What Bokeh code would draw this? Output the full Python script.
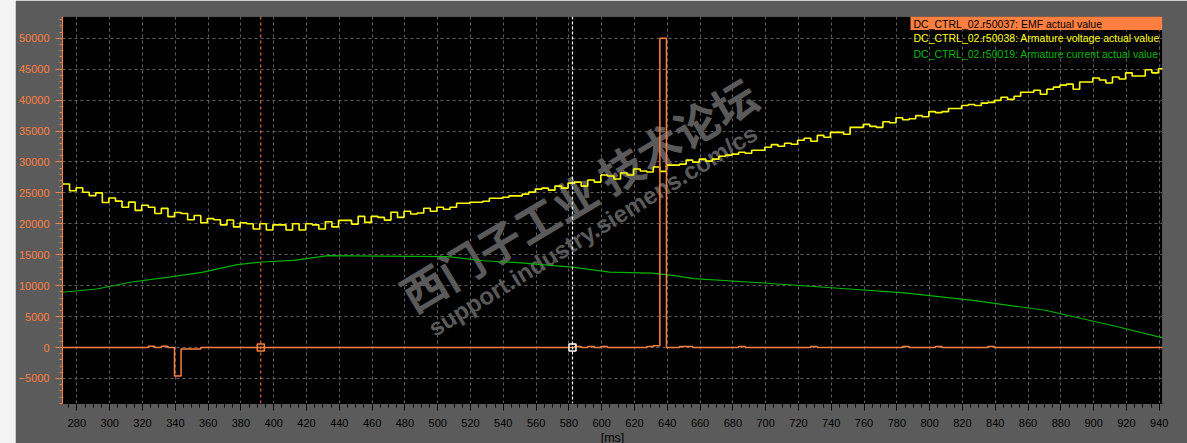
import numpy as np
from bokeh.plotting import figure
from bokeh.models import (Range1d, SingleIntervalTicker, Span, Label, BoxAnnotation,
                          Spacer, BasicTickFormatter)
from bokeh.layouts import row
from bokeh.embed import file_html
from bokeh.resources import INLINE

# ---------------- data ----------------
sample_start = 271.5   # ms, first sample of the stepped traces
sample_period = 4.0    # ms

armature_voltage = [
    26445, 25333, 25830, 25110, 24555, 25000, 23440, 24165, 23665, 22665,
    23500, 22165, 23000, 22665, 21665, 22500, 21165, 21830, 21665, 20665,
    21330, 20165, 20830, 20665, 19830, 20610, 19500, 20165, 20000, 19165,
    20000, 19000, 19830, 19830, 19000, 20000, 19000, 20000, 19830, 19165,
    20330, 19500,
    20550, 20550, 19950, 21200, 20225, 21200, 21040, 20600, 21855, 21040,
    22020, 21580, 21745, 22510, 22020, 22670, 22345, 22670, 23320, 23320,
    23485, 23485, 23650, 24135, 24135, 24300, 24515, 24515, 24790, 25115,
    25600, 25765, 25440, 26090, 25765, 26580, 26740, 26090, 27070, 26740,
    27880, 27720,
    27240, 28200, 27885, 28850, 28530, 28370, 29170, 28470, 29490, 29490,
    29650, 30290, 29970, 30450, 30130, 30450, 30930, 31095, 31255, 31575,
    31415, 31900, 31900, 32380, 32800, 32540, 33020, 32860, 33500, 33820,
    33340, 34300, 33980, 34785, 34785, 34465, 35590, 35590, 36070, 35750,
    35590,
    36490, 36325, 37150, 36820, 36985, 37480, 37315, 38140, 37970, 38140,
    38630, 38630, 39125, 39290, 39125, 39510, 39620, 39950, 40445, 40110,
    40610, 41270, 41270, 41600, 40940, 41760, 42090, 42420, 42585, 41760,
    42915, 42915, 43570, 43240, 42750, 43740, 43410, 44400, 43900, 43900,
    44890, 44400, 45055,
]

current_t = [270.6, 292.0, 313.5, 334.9, 356.3, 377.7, 392.7, 412.0, 433.4, 463.5,
             506.3, 527.7, 549.2, 570.6, 583.4, 604.8, 630.6, 643.4, 656.3, 699.1,
             742.0, 784.8, 827.6, 870.5, 913.3, 942.5]
armature_current = [8925, 9460, 10590, 11345, 12150, 13390, 13820, 14090, 14840, 14785,
                    14680, 14030, 13710, 13225, 12960, 12200, 12040, 11670, 11130, 10430,
                    9625, 8820, 7580, 6020, 3440, 1560]

emf_t = [271.5, 323.5, 327.5, 331.5, 335.5, 339.5, 343.5, 355.5, 583.5, 587.5,
         591.5, 595.5, 599.5, 603.5, 627.5, 631.5, 635.5, 639.5, 647.5, 655.5,
         683.5, 687.5, 727.5, 731.5, 783.5, 787.5, 803.5, 807.5, 835.5, 839.5, 943.5]
emf_value = [0, 200, 0, 200, 0, -4600, -250, 0, 150, 0,
             150, 0, 150, 0, 150, 300, 50000, 0, 150, 0,
             150, 0, 150, 0, 150, 0, 150, 0, 150, 0, 0]

cursor_t = [392.1, 582.2]
cursor_v = [0, 0]

series_names = ["DC_CTRL_02.r50037: EMF actual value",
                "DC_CTRL_02.r50038: Armature voltage actual value",
                "DC_CTRL_02.r50019: Armature current actual value"]
x_axis_title = "[ms]"
watermark_cn = "西门子工业 技术论坛"
watermark_url = "support.industry.siemens.com/cs"

# ---------------- styling ----------------
ORANGE = "#ff7f40"
YELLOW = "#ffff00"
GREEN = "#00b400"
PANEL = "#5b5b5b"
TICKFONT = "Liberation Sans"

X0, X1 = 271.2, 942.0
Y0, Y1 = -9050, 53510
FL, FR, FT, FB = 61, 1161, 16, 403   # frame in page pixels


def px_x(px):
    return X0 + (px - FL) * (X1 - X0) / (FR - FL)


def px_y(py):
    return Y1 - (py - FT) * (Y1 - Y0) / (FB - FT)


p = figure(frame_width=FR - FL, frame_height=FB - FT,
           x_range=Range1d(X0, X1), y_range=Range1d(Y0, Y1),
           output_backend="svg", toolbar_location=None,
           min_border_left=FL - 15, min_border_right=1187 - FR,
           min_border_top=FT, min_border_bottom=443 - FB,
           background_fill_color="black", border_fill_color=PANEL,
           outline_line_color=None)

p.xaxis.ticker = SingleIntervalTicker(interval=20, num_minor_ticks=4)
p.yaxis.ticker = SingleIntervalTicker(interval=5000, num_minor_ticks=5)
p.yaxis.formatter = BasicTickFormatter(use_scientific=False)

for g in (p.xgrid, p.ygrid):
    g.grid_line_color = "#606060"
    g.grid_line_dash = "3 3"
    g.grid_line_width = 1

xa = p.xaxis[0]
xa.axis_line_color = "black"
xa.major_tick_line_color = "black"
xa.minor_tick_line_color = "black"
xa.major_tick_out = 7
xa.major_tick_in = 0
xa.minor_tick_out = 4
xa.minor_tick_in = 0
xa.major_label_text_font = TICKFONT
xa.major_label_text_font_size = "11px"
xa.major_label_text_color = "black"
xa.major_label_standoff = 8
xa.axis_label = x_axis_title
xa.axis_label_text_font = "Liberation Sans"
xa.axis_label_text_font_size = "12.5px"
xa.axis_label_text_font_style = "normal"
xa.axis_label_text_color = "black"
xa.axis_label_standoff = 1

ya = p.yaxis[0]
ya.axis_line_color = ORANGE
ya.major_tick_line_color = ORANGE
ya.minor_tick_line_color = ORANGE
ya.major_tick_out = 7
ya.major_tick_in = 0
ya.minor_tick_out = 3
ya.minor_tick_in = 0
ya.major_label_text_font = TICKFONT
ya.major_label_text_font_size = "11px"
ya.major_label_text_color = ORANGE
ya.major_label_standoff = 6

# watermark (under the traces)
wm1 = Label(x=px_x(419), y=px_y(325), text=watermark_cn, angle=0.54,
            text_font="Noto Sans CJK SC", text_font_size="44px",
            text_font_style="bold", text_color="#5a5a5a",
            text_align="left", text_baseline="bottom", level="underlay")
wm2 = Label(x=px_x(436), y=px_y(341), text=watermark_url, angle=0.55,
            text_font="Liberation Sans", text_font_size="24px",
            text_font_style="bold", text_color="#5a5a5a",
            text_align="left", text_baseline="bottom", level="underlay")
p.add_layout(wm1)
p.add_layout(wm2)

# traces
vt = sample_start + sample_period * np.arange(len(armature_voltage))
vx = list(vt) + [vt[-1] + sample_period]
vy = list(armature_voltage) + [armature_voltage[-1]]
p.step(vx, vy, mode="after", line_color=YELLOW, line_width=1.6)
p.line(current_t, armature_current, line_color=GREEN, line_width=1.2)
p.step(emf_t, emf_value, mode="after", line_color=ORANGE, line_width=1.5)

# cursors
p.add_layout(Span(location=cursor_t[0], dimension="height", line_color=ORANGE,
                  line_dash="3 3", line_width=1))
p.add_layout(Span(location=cursor_t[1], dimension="height", line_color="white",
                  line_dash="3 2", line_width=1.2))
p.scatter(cursor_t[:1], cursor_v[:1], marker="square", size=7, fill_color=None,
          line_color=ORANGE, line_width=1.5)
p.scatter(cursor_t[1:], cursor_v[1:], marker="square", size=7, fill_color=None,
          line_color="white", line_width=1.5)

# legend
p.add_layout(BoxAnnotation(left=px_x(909), right=X1, top=Y1, bottom=px_y(29.5),
                           fill_color=ORANGE, fill_alpha=1, line_color=None))
for name, col, py in zip(series_names, ["black", YELLOW, "#00b400"], [23.0, 37.0, 53.0]):
    p.add_layout(Label(x=px_x(912), y=px_y(py), text=name, text_color=col,
                       text_font="Liberation Sans", text_font_size="10.5px",
                       text_align="left", text_baseline="middle"))

layout = row(Spacer(width=15, height=443), p)
html = file_html(layout, INLINE)
html = html.replace("</head>",
                    "<style>html,body{margin:0;padding:0;background:#f3f3f3;overflow:hidden}</style></head>", 1)
open("out.html", "w").write(html)
